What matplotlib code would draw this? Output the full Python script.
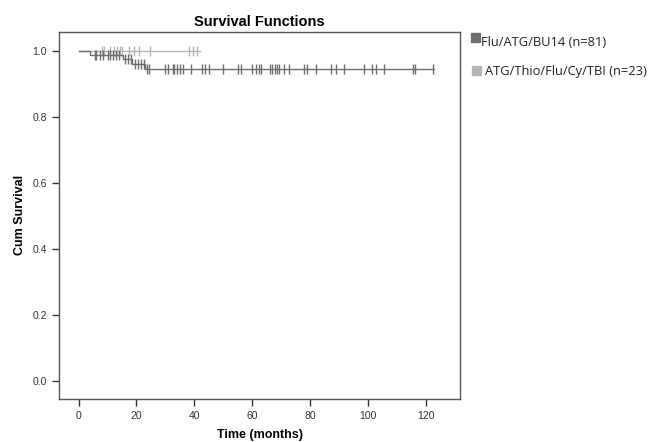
import numpy as np
import matplotlib.pyplot as plt
from matplotlib.patches import Rectangle

plt.rcParams['font.family'] = ['Liberation Sans', 'DejaVu Sans']

# Flu/ATG/BU14 (n=81): event times and survival after each step
g1_times = [0, 4, 15.5, 18.5, 23]
g1_surv = [1.0, 0.988, 0.976, 0.963, 0.947]
g1_end = 123
g1_censor = [5.5, 6, 7.5, 8.5, 10, 11, 12, 13, 14, 16, 17, 18,
             19.5, 20.5, 21.5, 22.5, 23.5, 24.5,
             30, 31, 32.5, 33, 34, 35, 36, 39, 42.7, 43.8, 45.2, 50,
             55, 56, 60, 61.2, 62.3, 63, 66.1, 67, 67.8, 68.7, 69.3,
             71, 72.7, 78, 79, 82, 87.2, 88.9, 91.8, 98.7, 101.6, 102.8,
             105.7, 115.5, 116.5, 122.7]

# ATG/Thio/Flu/Cy/TBI (n=23): no events
g2_times = [0]
g2_surv = [1.0]
g2_end = 42
g2_censor = [8.1, 8.6, 10.9, 12.1, 13.2, 14.4, 15, 17.3, 19, 20.7,
             24.8, 38, 39.5, 41]

labels = ["Flu/ATG/BU14 (n=81)", "ATG/Thio/Flu/Cy/TBI (n=23)"]
colors = ["#6e6e6e", "#b4b4b4"]

xticks = [0, 20, 40, 60, 80, 100, 120]
yticks = [0.0, 0.2, 0.4, 0.6, 0.8, 1.0]


def km_curve(ax, times, surv, end, censor, color):
    "Draw a step survival curve with censor ticks"
    t = list(times) + [end]
    s = list(surv) + [surv[-1]]
    ax.step(t, s, where="post", color=color, lw=1.0)
    idx = np.searchsorted(times, censor, side="right") - 1
    cy = np.array(surv)[idx]
    ax.plot(censor, cy, ls="none", marker="|", ms=7, mew=1.0, color=color)


fig = plt.figure(figsize=(6.6, 4.42), dpi=100)
ax = fig.add_axes([0.0894, 0.0973, 0.608, 0.831])

km_curve(ax, g2_times, g2_surv, g2_end, g2_censor, colors[1])
km_curve(ax, g1_times, g1_surv, g1_end, g1_censor, colors[0])

ax.set_xlim(-6.8, 132)
ax.set_ylim(-0.055, 1.06)
ax.set_xticks(xticks)
ax.set_yticks(yticks)
ax.set_xticklabels([str(v) for v in xticks])
ax.set_yticklabels(["%.1f" % v for v in yticks])
ax.tick_params(direction="out", length=5, width=1, labelsize=7.5, colors="#333333")
for sp in ax.spines.values():
    sp.set_color("#555555")
    sp.set_linewidth(1)

ax.set_xlabel("Time (months)", fontsize=9, fontweight="bold", labelpad=6)
ax.set_ylabel("Cum Survival", fontsize=9, fontweight="bold", labelpad=5)
ax.set_title("Survival Functions", fontsize=10.5, fontweight="bold", pad=4)

# legend outside the plot on the right
W, H = 660, 442
legend_pos = [(471, 33, 481, 42), (472, 66, 485, 71.5)]
for (sx, sy, tx, ty), lab, c in zip(legend_pos, labels, colors):
    fig.patches.append(Rectangle((sx / W, 1 - (sy + 9) / H), 9 / W, 9 / H,
                                 transform=fig.transFigure, color=c))
    fig.text(tx / W, 1 - ty / H, lab, fontsize=9.3, color="#222222",
             va="center", ha="left", family=["Open Sans", "DejaVu Sans"])

fig.savefig("out.png", dpi=100)
